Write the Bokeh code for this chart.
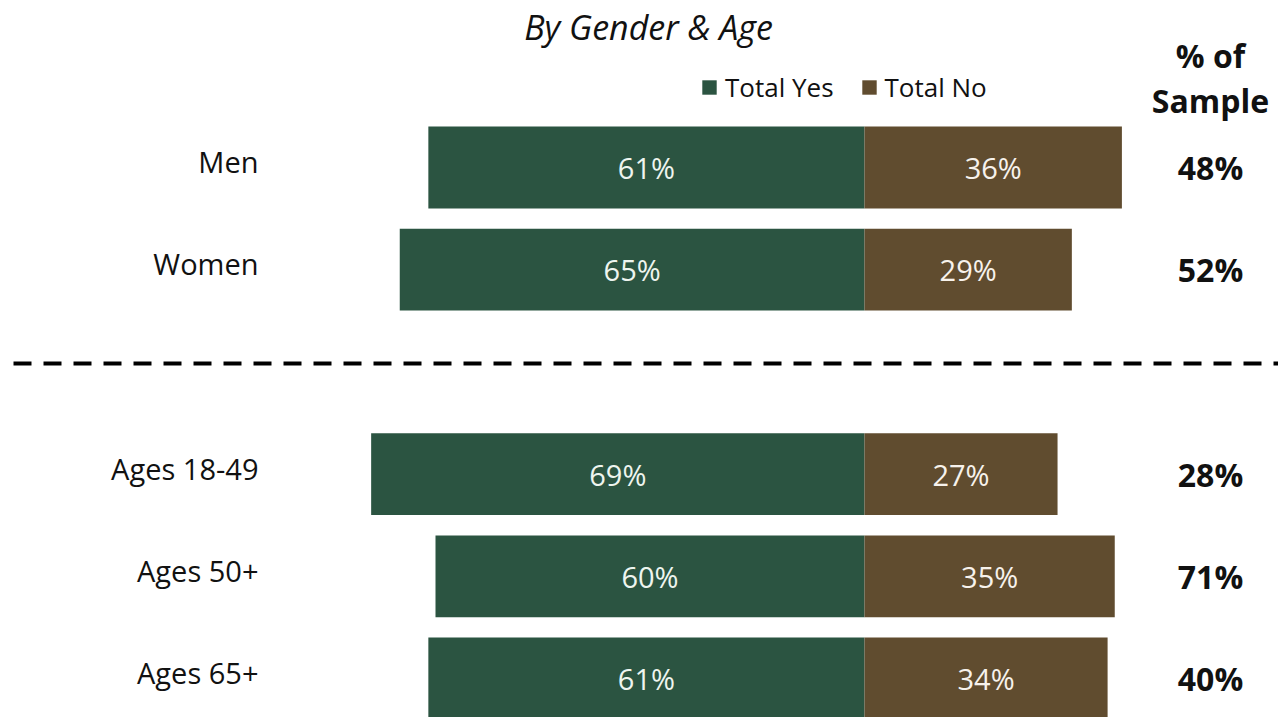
from bokeh.plotting import figure
from bokeh.models import Range1d, Label, Legend, LegendItem, ColumnDataSource
from bokeh.core.properties import value
from bokeh.embed import file_html
from bokeh.resources import INLINE

# ---- data ----
categories = ["Men", "Women", "Ages 18-49", "Ages 50+", "Ages 65+"]
row_pos = [0, 1, 3, 4, 5]
total_yes = [61, 65, 69, 60, 61]
total_no = [36, 29, 27, 35, 34]
pct_sample = [48, 52, 28, 71, 40]
title_text = "By Gender & Age"
series_names = ["Total Yes", "Total No"]

GREEN = "#2B5441"
BROWN = "#604C2F"
FONT = "Open Sans"

W, H = 1278, 717
px_per_unit_x = 7.15
zero_px = 864
px_per_row = 102.2
row0_px = 167

x0 = -zero_px / px_per_unit_x
x1 = (W - zero_px) / px_per_unit_x
ytop = -row0_px / px_per_row
ybot = (H - row0_px) / px_per_row

p = figure(width=W, height=H, output_backend="svg", toolbar_location=None,
           x_range=Range1d(x0, x1), y_range=Range1d(ybot, ytop),
           min_border=0, min_border_left=0, min_border_right=0,
           min_border_top=0, min_border_bottom=0)
p.axis.visible = False
p.grid.visible = False
p.outline_line_color = None
p.background_fill_color = "white"
p.border_fill_color = "white"

src = ColumnDataSource(dict(
    y=row_pos,
    cat=categories,
    yes_left=[-v for v in total_yes],
    zero=[0] * len(total_yes),
    no_right=total_no,
    yes_mid=[-v / 2 for v in total_yes],
    no_mid=[v / 2 for v in total_no],
    yes_lbl=[f"{v}%" for v in total_yes],
    no_lbl=[f"{v}%" for v in total_no],
    smp_lbl=[f"{v}%" for v in pct_sample],
))

r_yes = p.hbar(y="y", left="yes_left", right="zero", height=0.80, source=src,
               fill_color=GREEN, line_color=None)
r_no = p.hbar(y="y", left="zero", right="no_right", height=0.80, source=src,
              fill_color=BROWN, line_color=None)

# in-bar labels
p.text(x="yes_mid", y="y", text="yes_lbl", source=src, text_align="center",
       text_baseline="middle", text_color="#EEF5EF", text_font=value(FONT),
       text_font_size="29px")
p.text(x="no_mid", y="y", text="no_lbl", source=src, text_align="center",
       text_baseline="middle", text_color="#F7F2EC", text_font=value(FONT),
       text_font_size="29px")

# category labels
cat_x = (258 - zero_px) / px_per_unit_x
p.text(x=cat_x, y="y", text="cat", source=src, text_align="right",
       text_baseline="middle", text_color="#111111", text_font=value(FONT),
       text_font_size="29px", y_offset=-6)

# % of sample column
smp_x = (1210 - zero_px) / px_per_unit_x
p.text(x=smp_x, y="y", text="smp_lbl", source=src, text_align="center",
       text_baseline="middle", text_color="#111111", text_font=value(FONT),
       text_font_size="32px", text_font_style="bold")
for txt, ypx in [("% of", 55), ("Sample", 100)]:
    p.add_layout(Label(x=smp_x, y=(ypx - row0_px) / px_per_row, text=txt,
                       text_align="center", text_baseline="middle",
                       text_font=FONT, text_font_size="32px",
                       text_font_style="bold", text_color="#111111"))

# title
p.add_layout(Label(x=(648 - zero_px) / px_per_unit_x, y=(26 - row0_px) / px_per_row,
                   text=title_text, text_align="center", text_baseline="middle",
                   text_font=FONT, text_font_size="34px",
                   text_font_style="italic", text_color="#111111"))

# dashed separator
sep_y = (363 - row0_px) / px_per_row
p.segment(x0=(13 - zero_px) / px_per_unit_x, y0=sep_y, x1=x1, y1=sep_y,
          line_color="black", line_width=4, line_dash="18 12")

# legend
legend = Legend(items=[LegendItem(label=series_names[0], renderers=[r_yes]),
                       LegendItem(label=series_names[1], renderers=[r_no])],
                orientation="horizontal", location=(700, H - 90 - 15),
                border_line_color=None, background_fill_alpha=0,
                padding=0, margin=0, spacing=26, label_standoff=7,
                glyph_width=18, glyph_height=18,
                label_text_font=FONT, label_text_font_size="26px",
                label_text_color="#111111", label_height=30)
p.add_layout(legend, "center")

open("out.html", "w").write(file_html(p, INLINE))
